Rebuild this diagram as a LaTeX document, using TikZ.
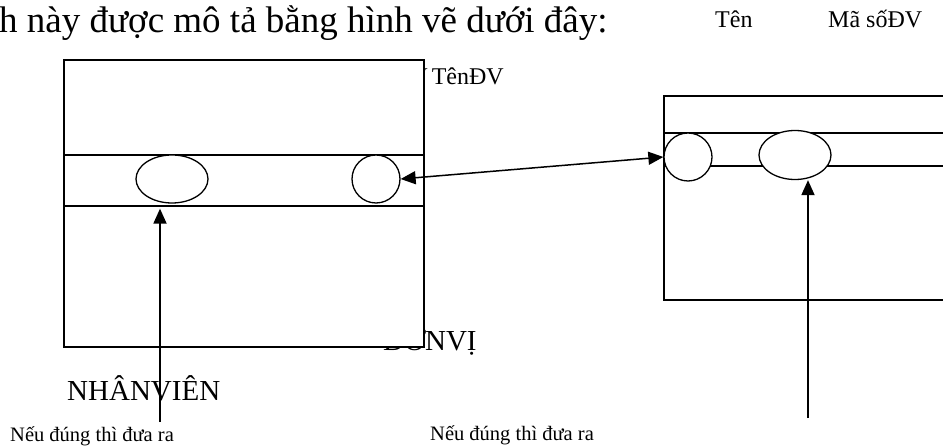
\documentclass[tikz,border=0pt]{standalone}
\usepackage{fontspec}
\setmainfont{Liberation Serif}
\usetikzlibrary{arrows.meta,shapes.geometric}
\begin{document}
\begin{tikzpicture}[x=1pt,y=-1pt,
  txt/.style={inner sep=0pt, anchor=base west},
  big/.style={font=\fontsize{37}{40}\selectfont},
  mid/.style={font=\fontsize{29}{32}\selectfont},
  sm/.style={font=\fontsize{24}{26}\selectfont},
  tiny/.style={font=\fontsize{20.5}{22}\selectfont},
  frame/.style={draw, line width=2pt, fill=white, inner sep=0pt, anchor=north west},
  sep/.style={line width=1.3pt},
  oval/.style={draw, fill=white, line width=1.3pt, ellipse, inner sep=0pt, minimum width=72pt, minimum height=48pt},
  circ/.style={draw, fill=white, line width=1.3pt, circle, inner sep=0pt, minimum size=48pt},
  tip/.tip={Triangle[length=15pt,width=13pt]},
  arr/.style={line width=1.8pt, -tip}
]
\useasboundingbox (0,0) rectangle (943,446);
\clip (0,0) rectangle (943,446);
% texts partly hidden behind the boxes
\node[txt, mid] (dv) at (383,351) {ĐƠNVỊ};
\node[sm, inner sep=0pt, anchor=base east] (tdv) at (504,85) {ĐV\hspace{4pt}TênĐV};
% boxes
\node[frame, minimum width=360pt, minimum height=287pt] (nv) at (63,59) {};
\node[frame, minimum width=320pt, minimum height=204pt] (db) at (663,95) {};
% separator lines
\draw[sep] (nv.west |- 0,155) -- (nv.east |- 0,155);
\draw[sep] (nv.west |- 0,206) -- (nv.east |- 0,206);
\draw[sep] (db.west |- 0,133) -- (db.east |- 0,133);
\draw[sep] (db.west |- 0,166) -- (db.east |- 0,166);
% ellipses and circles
\node[oval] (ne) at (172,179) {};
\node[circ] (nc) at (376,179) {};
\node[circ] (dc) at (688,157) {};
\node[oval, minimum height=49pt] (de) at (795,155) {};
% texts
\node[txt, big] (title) at (-1,33) {h này được mô tả bằng hình vẽ dưới đây:};
\node[txt, sm] (ten) at (715,28) {Tên};
\node[txt, sm] (ma) at (828,28) {Mã sốĐV};
\node[txt, mid] (nvl) at (67,400) {NHÂNVIÊN};
\node[txt, tiny] (n1) at (10,441) {Nếu đúng thì đưa ra};
\node[txt, tiny] (n2) at (430,440) {Nếu đúng thì đưa ra};
% connectors
\draw[line width=1.5pt, tip-tip] (nc.east) -- (dc.west);
\coordinate (a1) at (160,422);
\draw[arr, shorten >=5pt] (a1) -- (a1 |- ne.south);
\coordinate (a2) at (808,418);
\draw[arr] (a2) -- (a2 |- de.south);
\end{tikzpicture}
\end{document}
